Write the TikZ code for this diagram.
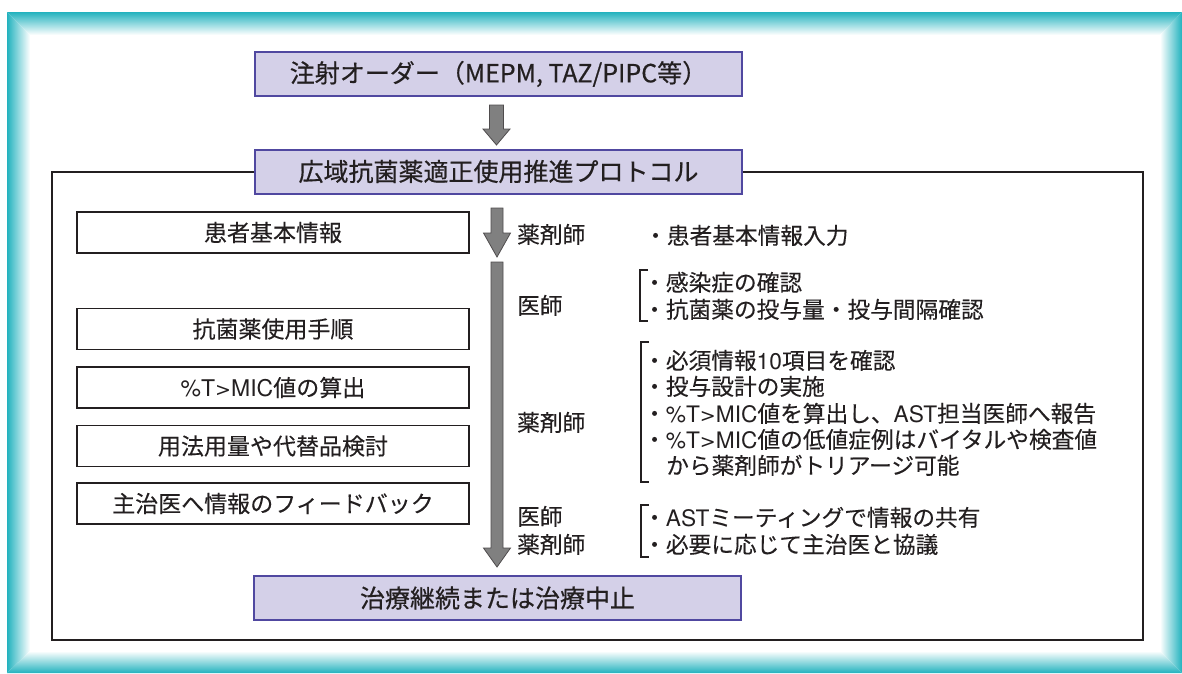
\documentclass[tikz,border=0pt]{standalone}
\usepackage{fontspec}
\setmainfont{Noto Sans CJK JP}[FakeBold=0.2]
\newfontfamily\titlefont{Noto Sans CJK JP}[FakeBold=0.5]
\newfontfamily\lat{TeX Gyre Heros}
\newfontfamily\dvs{DejaVu Sans}
\usetikzlibrary{calc}
\definecolor{teal1}{RGB}{34,178,190}
\definecolor{boxfill}{RGB}{212,208,232}
\definecolor{boxdraw}{RGB}{80,72,160}
\definecolor{ink}{RGB}{35,31,32}
\definecolor{arrowgray}{RGB}{128,128,128}
\newcommand{\tmic}{{\lat\%T}{\dvs\fontsize{19}{20}\selectfont >}{\lat MIC}}
\tikzset{
  titlebox/.style={draw=boxdraw, line width=2pt, fill=boxfill, minimum width=487pt, minimum height=44pt, inner sep=0pt, text=ink, font=\titlefont\fontsize{25}{30}\selectfont},
  stepbox/.style={draw=ink, line width=1.6pt, minimum width=392pt, minimum height=41pt, inner sep=0pt, text=ink, font=\fontsize{23}{27}\selectfont},
  txt/.style={inner sep=0pt, anchor=base west, text=ink, font=\fontsize{22.7}{27}\selectfont},
  fatarrow/.style={fill=arrowgray, draw=ink!80, line width=0.8pt, line join=miter},
  bracketline/.style={draw=ink, line width=1.4pt},
}
\begin{document}
\begin{tikzpicture}[x=1pt,y=-1pt]
\useasboundingbox (0,0) rectangle (1182,673);
% gradient frame
\begin{scope}
 \clip (7,12) -- (1182,12) -- (1160,35) -- (30,35) -- cycle;
 \shade[top color=teal1, bottom color=white] (7,12) rectangle (1182,35);
\end{scope}
\begin{scope}
 \clip (7,12) -- (30,35) -- (30,651) -- (7,673) -- cycle;
 \shade[left color=teal1, right color=white] (7,12) rectangle (30,673);
\end{scope}
\begin{scope}
 \clip (1182,12) -- (1182,673) -- (1160,651) -- (1160,35) -- cycle;
 \shade[left color=white, right color=teal1] (1160,12) rectangle (1182,673);
\end{scope}
\begin{scope}
 \clip (7,673) -- (1182,673) -- (1160,651) -- (30,651) -- cycle;
 \shade[top color=white, bottom color=teal1] (7,651) rectangle (1182,673);
\end{scope}

% main frame
\draw[draw=ink, line width=2pt] (52,172) rectangle (1143,640);

% title boxes
\node[titlebox] (order) at (498.5,74) {注射オーダー（MEPM, TAZ/PIPC等）};
\node[titlebox] (proto) at (498.5,171.5) {広域抗菌薬適正使用推進プロトコル};
\node[titlebox] (result) at (497.5,598) {治療継続または治療中止};

% left step boxes
\node[stepbox] (b1) at (273,232.5) {患者基本情報};
\node[stepbox] (b2) at (273,329) {抗菌薬使用手順};
\node[stepbox] (b3) at (273,387.5) {\tmic 値の算出};
\node[stepbox] (b4) at (273,446) {用法用量や代替品検討};
\node[stepbox] (b5) at (273,503.5) {主治医へ情報のフィードバック};

% arrows
\coordinate (a0s) at (496.5,105);
\coordinate (a0e) at (496.5,145);
\draw[fatarrow] ($(a0s)+(-7,0)$) -- ($(a0s)+(7,0)$) -- ($(a0e)+(7,-16)$) -- ($(a0e)+(13.5,-16)$) -- (a0e) -- ($(a0e)+(-13.5,-16)$) -- ($(a0e)+(-7,-16)$) -- cycle;

\coordinate (a1s) at (497,208);
\coordinate (a1e) at (497,257);
\draw[fatarrow] ($(a1s)+(-6,0)$) -- ($(a1s)+(6,0)$) -- ($(a1e)+(6,-24)$) -- ($(a1e)+(13.5,-24)$) -- (a1e) -- ($(a1e)+(-13.5,-24)$) -- ($(a1e)+(-6,-24)$) -- cycle;

\coordinate (a2s) at (497,262);
\coordinate (a2e) at (497,567);
\draw[fatarrow] ($(a2s)+(-6,0)$) -- ($(a2s)+(6,0)$) -- ($(a2e)+(6,-19)$) -- ($(a2e)+(13.5,-19)$) -- (a2e) -- ($(a2e)+(-13.5,-19)$) -- ($(a2e)+(-6,-19)$) -- cycle;

% role labels
\node[txt] (r1) at (517,243) {薬剤師};
\node[txt] (r2) at (517,314) {医師};
\node[txt] (r3) at (517,431) {薬剤師};
\node[txt] (r4) at (517,525) {医師};
\node[txt] (r5) at (517,553) {薬剤師};

% task texts
\node[txt] (t1) at (644,244) {・患者基本情報入力};

\draw[bracketline] (648,270) -- (640,270) -- (640,321) -- (648,321);
\node[txt] (t2) at (643,291) {・感染症の確認};
\node[txt] (t3) at (643,318) {・抗菌薬の投与量・投与間隔確認};

\draw[bracketline] (649,342) -- (641,342) -- (641,482) -- (649,482);
\node[txt] (t4) at (643,369) {・必須情報{\lat 10}項目を確認};
\node[txt] (t5) at (643,395) {・投与設計の実施};
\node[txt] (t6) at (643,422) {・\tmic 値を算出し、{\lat AST}担当医師へ報告};
\node[txt] (t7) at (643,448) {・\tmic 値の低値症例はバイタルや検査値};
\node[txt] (t8) at (666,474) {から薬剤師がトリアージ可能};

\draw[bracketline] (649,505) -- (641,505) -- (641,557) -- (649,557);
\node[txt] (t9) at (643,526) {・{\lat AST}ミーティングで情報の共有};
\node[txt] (t10) at (643,553) {・必要に応じて主治医と協議};
\end{tikzpicture}
\end{document}
